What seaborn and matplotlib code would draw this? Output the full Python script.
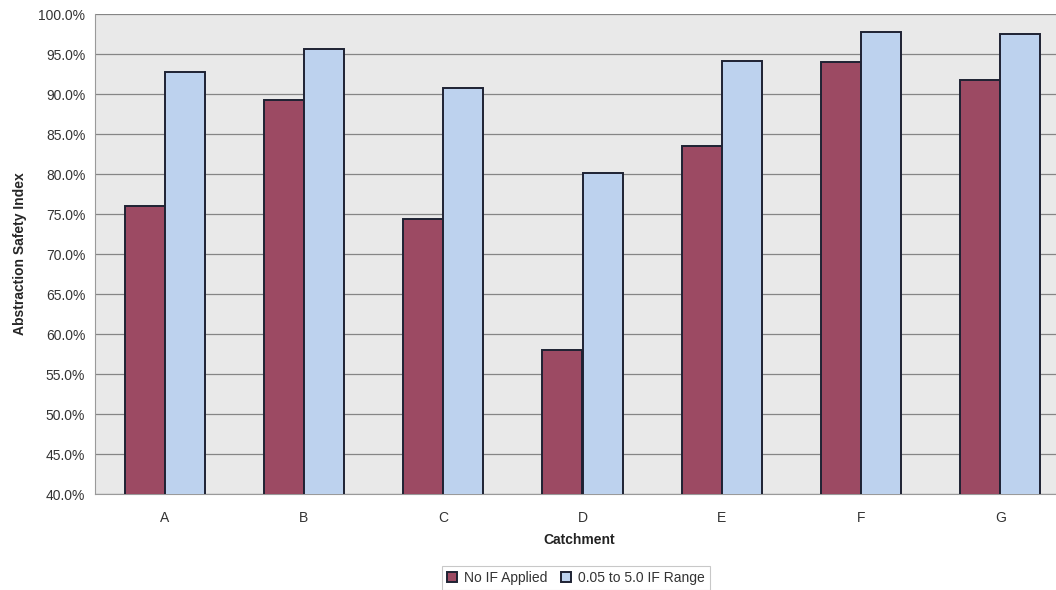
import matplotlib
matplotlib.use("Agg")
import matplotlib.pyplot as plt
import matplotlib.ticker as mticker
import seaborn as sns
import pandas as pd
import numpy as np

catchments = ["A", "B", "C", "D", "E", "F", "G"]
no_if = [76.0, 89.2, 74.4, 58.0, 83.5, 94.0, 91.7]
if_range = [92.7, 95.6, 90.7, 80.1, 94.1, 97.7, 97.5]
series_names = ["No IF Applied", "0.05 to 5.0 IF Range"]
y_ticks = np.arange(40, 100.1, 5)

df = pd.DataFrame({
    "Catchment": catchments * 2,
    "Series": [series_names[0]] * len(catchments) + [series_names[1]] * len(catchments),
    "Value": no_if + if_range,
})

sns.set_style("white")
plt.rcParams["font.family"] = ["Liberation Sans", "DejaVu Sans"]

fig = plt.figure(figsize=(10.56, 5.90), dpi=100)
ax = fig.add_axes([95 / 1056, 96 / 590, 975 / 1056, 480 / 590])
ax.set_facecolor("#E9E9E9")

palette = {series_names[0]: "#9C4A63", series_names[1]: "#BDD2EE"}
sns.barplot(data=df, x="Catchment", y="Value", hue="Series", palette=palette,
            width=0.575, edgecolor="#1E2233", linewidth=1.4, saturation=1,
            ax=ax, zorder=3)

ax.set_ylim(40, 100)
ax.set_xlim(-0.5, 6.5)
ax.set_yticks(y_ticks)
ax.yaxis.set_major_formatter(mticker.FuncFormatter(lambda v, p: f"{v:.1f}%"))
ax.grid(axis="y", color="#858585", linewidth=0.9, zorder=0)
ax.set_axisbelow(True)

for s in ["top", "right"]:
    ax.spines[s].set_visible(False)
ax.spines["left"].set_color("#9A9A9A")
ax.spines["bottom"].set_color("#9A9A9A")

ax.tick_params(axis="y", labelsize=10, colors="#333333", length=4, width=0.8,
               direction="out", pad=3)
ax.tick_params(axis="x", labelsize=10, colors="#333333", length=0, pad=12)
ax.set_xticks(range(len(catchments)))
ax.set_xticks(np.arange(-0.5, 6.6, 1), minor=True)
ax.tick_params(axis="x", which="minor", length=4, color="#9A9A9A")

ax.set_ylabel("Abstraction Safety Index", fontsize=10, fontweight="bold", labelpad=8)
ax.set_xlabel("")
fig.text(579 / 1056, 1 - 540 / 590, "Catchment", ha="center", va="center",
         fontsize=10, fontweight="bold", color="#222222")

handles, labels = ax.get_legend_handles_labels()
leg = ax.legend(handles, labels, loc="center", bbox_to_anchor=(576 / 1056, 1 - 578 / 590),
                bbox_transform=fig.transFigure, ncol=2, fontsize=10, frameon=True,
                fancybox=False, edgecolor="#BBBBBB", handlelength=0.7, handleheight=0.7,
                handletextpad=0.5, columnspacing=1.0, borderpad=0.35)
leg.get_frame().set_linewidth(0.8)
for t in leg.get_texts():
    t.set_color("#333333")

fig.savefig("out.png", dpi=100, facecolor="white")
